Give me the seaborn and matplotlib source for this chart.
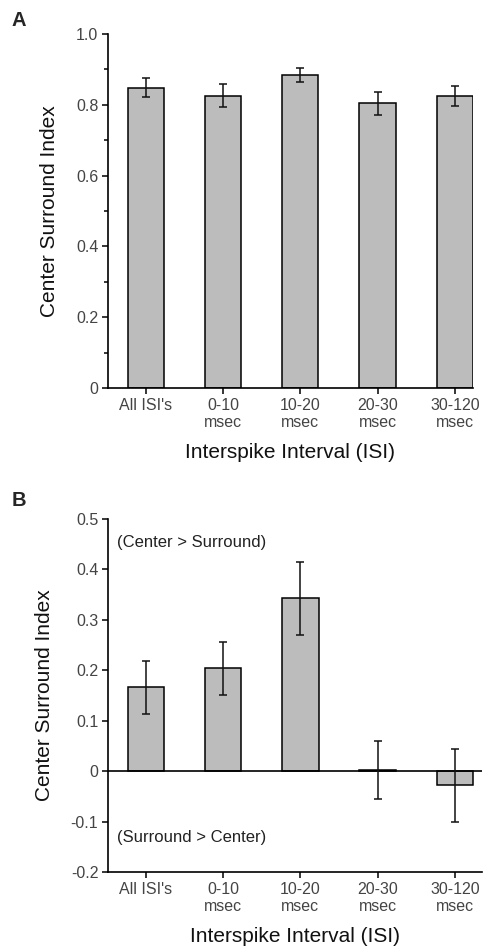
import matplotlib
matplotlib.use("Agg")
import matplotlib.pyplot as plt
import seaborn as sns
import pandas as pd
import numpy as np

categories = ["All ISI's", "0-10\nmsec", "10-20\nmsec", "20-30\nmsec", "30-120\nmsec"]
a_values = [0.848, 0.826, 0.885, 0.804, 0.826]
a_errors = [0.027, 0.032, 0.019, 0.032, 0.028]
b_values = [0.166, 0.204, 0.343, 0.002, -0.028]
b_errors = [0.052, 0.052, 0.072, 0.057, 0.072]
a_yticks = [0, 0.2, 0.4, 0.6, 0.8, 1.0]
a_yticklabels = ["0", "0.2", "0.4", "0.6", "0.8", "1.0"]
a_yminor = [0.1, 0.3, 0.5, 0.7, 0.9]
b_yticks = [-0.2, -0.1, 0, 0.1, 0.2, 0.3, 0.4, 0.5]
b_yticklabels = ["-0.2", "-0.1", "0", "0.1", "0.2", "0.3", "0.4", "0.5"]

sns.set_theme(style="ticks")
plt.rcParams['font.family'] = ['Liberation Sans', 'DejaVu Sans']

BAR = "#bcbcbc"
TICKC = "#444444"

fig = plt.figure(figsize=(4.84, 9.52), dpi=100)
axA = fig.add_axes([0.2231, 0.5924, 0.7541, 0.3718])
axB = fig.add_axes([0.2231, 0.0840, 0.7727, 0.3708])

def draw(ax, vals, errs):
    df = pd.DataFrame({"cat": categories, "val": vals})
    sns.barplot(data=df, x="cat", y="val", ax=ax, color=BAR, width=0.47,
                edgecolor="black", linewidth=1.1, errorbar=None, saturation=1)
    ax.errorbar(np.arange(len(vals)), vals, yerr=errs, fmt="none",
                ecolor="#111111", elinewidth=1.1, capsize=3, capthick=1.1)
    ax.set_xlabel("Interspike Interval (ISI)", fontsize=15, labelpad=10, color="#111111")
    ax.set_ylabel("Center Surround Index", fontsize=15, labelpad=12, color="#111111")
    for s in ["top", "right"]:
        ax.spines[s].set_visible(False)
    for s in ["left", "bottom"]:
        ax.spines[s].set_linewidth(1.2)
        ax.spines[s].set_color("black")
    ax.set_xticks(np.arange(len(categories)))
    ax.set_xticklabels(categories, linespacing=1.15)
    ax.tick_params(axis="both", labelsize=11.5, labelcolor=TICKC, color="black",
                   width=1.1, pad=3, length=4)

draw(axA, a_values, a_errors)
axA.set_yticks(a_yticks)
axA.set_yticklabels(a_yticklabels)
axA.set_yticks(a_yminor, minor=True)
axA.tick_params(axis="y", which="minor", length=3, width=1.1, color="black")
axA.set_ylim(0, 1.0)
axA.set_xlim(-0.49, 4.235)

draw(axB, b_values, b_errors)
axB.set_yticks(b_yticks)
axB.set_yticklabels(b_yticklabels)
axB.set_ylim(-0.2, 0.5)
axB.set_xlim(-0.49, 4.35)
axB.axhline(0, color="black", linewidth=1.2, zorder=1)
axB.text(-0.375, 0.454, "(Center > Surround)", fontsize=12, color="#222222", va="center")
axB.text(-0.375, -0.131, "(Surround > Center)", fontsize=12, color="#222222", va="center")

fig.text(12/484, 1 - 21/952, "A", fontsize=14.5, fontweight="bold", va="center")
fig.text(12/484, 1 - 500/952, "B", fontsize=14.5, fontweight="bold", va="center")

fig.savefig("out.png", dpi=100)
